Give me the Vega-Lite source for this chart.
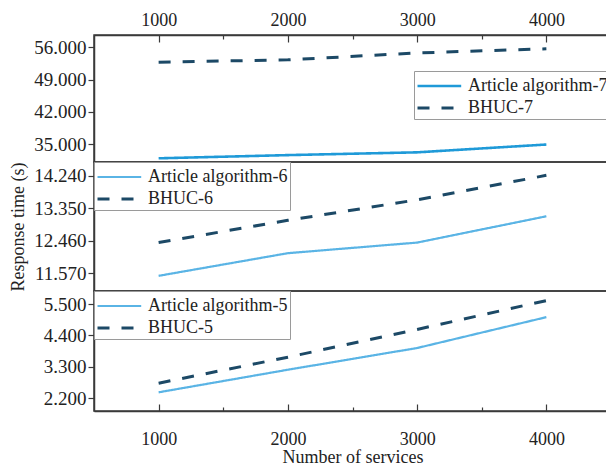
{
  "$schema": "https://vega.github.io/schema/vega-lite/v6.json",
  "padding": {"left": 9, "top": 10, "right": 0, "bottom": 0},
  "background": "white",
  "spacing": 0,
  "bounds": "flush",
  "config": {
    "font": "Liberation Serif",
    "view": {"stroke": "#3a3a3a", "strokeWidth": 1.5},
    "axis": {
      "labelFont": "Liberation Serif", "labelFontSize": 18, "labelColor": "#222",
      "titleFont": "Liberation Serif", "titleFontSize": 18, "titleColor": "#222", "titleFontWeight": "normal",
      "domainColor": "#3a3a3a", "domainWidth": 1.5, "tickColor": "#3a3a3a", "tickWidth": 1.2, "grid": false
    },
    "legend": {
      "labelFont": "Liberation Serif", "labelFontSize": 18, "labelColor": "#222",
      "strokeColor": "#9a9a9a", "fillColor": "white", "padding": 2,
      "symbolType": "M-1,0H2.8", "symbolSize": 529, "rowPadding": 0, "labelOffset": 26, "title": null, "labelLimit": 300
    }
  },
  "data": {"values": [
    {"panel": "p7", "series": "Article algorithm-7", "n": 1000, "time": 31.9},
    {"panel": "p7", "series": "Article algorithm-7", "n": 2000, "time": 32.6},
    {"panel": "p7", "series": "Article algorithm-7", "n": 3000, "time": 33.2},
    {"panel": "p7", "series": "Article algorithm-7", "n": 4000, "time": 34.9},
    {"panel": "p7", "series": "BHUC-7", "n": 1000, "time": 52.8},
    {"panel": "p7", "series": "BHUC-7", "n": 2000, "time": 53.3},
    {"panel": "p7", "series": "BHUC-7", "n": 3000, "time": 54.8},
    {"panel": "p7", "series": "BHUC-7", "n": 4000, "time": 55.7},
    {"panel": "p6", "series": "Article algorithm-6", "n": 1000, "time": 11.50},
    {"panel": "p6", "series": "Article algorithm-6", "n": 2000, "time": 12.12},
    {"panel": "p6", "series": "Article algorithm-6", "n": 3000, "time": 12.41},
    {"panel": "p6", "series": "Article algorithm-6", "n": 4000, "time": 13.13},
    {"panel": "p6", "series": "BHUC-6", "n": 1000, "time": 12.41},
    {"panel": "p6", "series": "BHUC-6", "n": 2000, "time": 13.02},
    {"panel": "p6", "series": "BHUC-6", "n": 3000, "time": 13.58},
    {"panel": "p6", "series": "BHUC-6", "n": 4000, "time": 14.25},
    {"panel": "p5", "series": "Article algorithm-5", "n": 1000, "time": 2.41},
    {"panel": "p5", "series": "Article algorithm-5", "n": 2000, "time": 3.20},
    {"panel": "p5", "series": "Article algorithm-5", "n": 3000, "time": 3.96},
    {"panel": "p5", "series": "Article algorithm-5", "n": 4000, "time": 5.04},
    {"panel": "p5", "series": "BHUC-5", "n": 1000, "time": 2.73},
    {"panel": "p5", "series": "BHUC-5", "n": 2000, "time": 3.64},
    {"panel": "p5", "series": "BHUC-5", "n": 3000, "time": 4.61},
    {"panel": "p5", "series": "BHUC-5", "n": 4000, "time": 5.62}
  ]},
  "resolve": {"scale": {"color": "independent", "strokeDash": "independent", "strokeWidth": "independent", "y": "independent"}, "legend": {"color": "independent", "strokeDash": "independent", "strokeWidth": "independent"}},
  "vconcat": [
    {
      "width": 517, "height": 127,
      "transform": [{"filter": "datum.panel == 'p7'"}],
      "mark": {"type": "line", "clip": true},
      "encoding": {
        "x": {"field": "n", "type": "quantitative", "scale": {"domain": [500, 4500], "nice": false},
          "axis": {"orient": "top", "title": null, "values": [1000, 1500, 2000, 2500, 3000, 3500, 4000],
            "labelExpr": "datum.value % 1000 == 0 ? datum.label : ''", "format": "d",
            "tickSize": {"condition": {"test": "datum.value % 1000 != 0", "value": -4}, "value": -7},
            "labelPadding": 13}},
        "y": {"field": "time", "type": "quantitative", "scale": {"domain": [31.1, 58.7], "nice": false, "zero": false},
          "axis": {"title": null, "values": [35, 42, 49, 56], "format": ".3f", "tickSize": 6, "labelPadding": 2, "labelFontSize": 19}},
        "color": {"field": "series", "type": "nominal", "scale": {"domain": ["Article algorithm-7", "BHUC-7"], "range": ["#1f9ad8", "#1c4966"]},
          "legend": {"orient": "none", "legendX": 320, "legendY": 36}},
        "strokeDash": {"field": "series", "type": "nominal", "scale": {"domain": ["Article algorithm-7", "BHUC-7"], "range": [[1, 0], [12, 12]]},
          "legend": {"orient": "none", "legendX": 320, "legendY": 36}},
        "strokeWidth": {"field": "series", "type": "nominal", "scale": {"domain": ["Article algorithm-7", "BHUC-7"], "range": [2.6, 3]},
          "legend": {"orient": "none", "legendX": 320, "legendY": 36}}
      }
    },
    {
      "width": 517, "height": 129,
      "transform": [{"filter": "datum.panel == 'p6'"}],
      "mark": {"type": "line", "clip": true},
      "encoding": {
        "x": {"field": "n", "type": "quantitative", "scale": {"domain": [500, 4500], "nice": false}, "axis": null},
        "y": {"field": "time", "type": "quantitative", "scale": {"domain": [11.085, 14.615], "nice": false, "zero": false},
          "axis": {"title": "Response time (s)", "titlePadding": 6, "values": [11.57, 12.46, 13.35, 14.24], "format": ".3f", "tickSize": 6, "labelPadding": 2, "labelFontSize": 19}},
        "color": {"field": "series", "type": "nominal", "scale": {"domain": ["Article algorithm-6", "BHUC-6"], "range": ["#5ab4e5", "#1c4966"]},
          "legend": {"orient": "top-left", "offset": 0}},
        "strokeDash": {"field": "series", "type": "nominal", "scale": {"domain": ["Article algorithm-6", "BHUC-6"], "range": [[1, 0], [12, 12]]},
          "legend": {"orient": "top-left", "offset": 0}},
        "strokeWidth": {"field": "series", "type": "nominal", "scale": {"domain": ["Article algorithm-6", "BHUC-6"], "range": [2.2, 3]},
          "legend": {"orient": "top-left", "offset": 0}}
      }
    },
    {
      "width": 517, "height": 120,
      "transform": [{"filter": "datum.panel == 'p5'"}],
      "mark": {"type": "line", "clip": true},
      "encoding": {
        "x": {"field": "n", "type": "quantitative", "scale": {"domain": [500, 4500], "nice": false},
          "axis": {"orient": "bottom", "title": "Number of services", "titlePadding": 0, "values": [1000, 1500, 2000, 2500, 3000, 3500, 4000],
            "labelExpr": "datum.value % 1000 == 0 ? datum.label : ''", "format": "d",
            "tickSize": {"condition": {"test": "datum.value % 1000 != 0", "value": -4}, "value": -7},
            "labelPadding": 26}},
        "y": {"field": "time", "type": "quantitative", "scale": {"domain": [1.756, 5.955], "nice": false, "zero": false},
          "axis": {"title": null, "values": [2.2, 3.3, 4.4, 5.5], "format": ".3f", "tickSize": 6, "labelPadding": 2, "labelFontSize": 19}},
        "color": {"field": "series", "type": "nominal", "scale": {"domain": ["Article algorithm-5", "BHUC-5"], "range": ["#5ab4e5", "#1c4966"]},
          "legend": {"orient": "top-left", "offset": 0}},
        "strokeDash": {"field": "series", "type": "nominal", "scale": {"domain": ["Article algorithm-5", "BHUC-5"], "range": [[1, 0], [12, 12]]},
          "legend": {"orient": "top-left", "offset": 0}},
        "strokeWidth": {"field": "series", "type": "nominal", "scale": {"domain": ["Article algorithm-5", "BHUC-5"], "range": [2.2, 3]},
          "legend": {"orient": "top-left", "offset": 0}}
      }
    }
  ]
}
